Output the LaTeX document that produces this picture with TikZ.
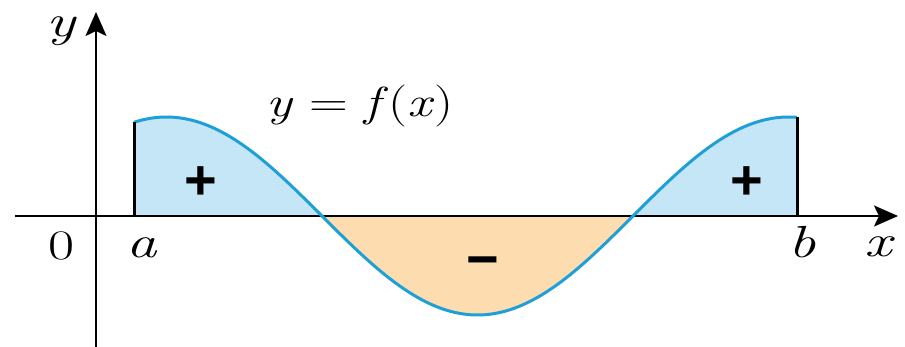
\documentclass[tikz,border=0pt]{standalone}
\usepackage{fontspec}
\usepackage{graphicx}
\newfontfamily\signfont{Liberation Sans}
\newcommand{\wideglyph}[1]{\scalebox{1.35}[1]{#1}}
\usetikzlibrary{arrows.meta}
\definecolor{curveblue}{RGB}{30,160,215}
\definecolor{posfill}{RGB}{197,230,247}
\definecolor{negfill}{RGB}{253,221,176}
\begin{document}
\begin{tikzpicture}[x=1pt,y=-1pt,
  axisline/.style={line width=2pt, -{Stealth[length=24pt,width=21pt,inset=5pt]}},
  lbl/.style={font=\rmfamily\fontsize{45}{48}\selectfont\itshape, inner sep=0pt},
  sign/.style={font=\signfont\bfseries\fontsize{56}{60}\selectfont, inner sep=0pt},
  fcurve/.style={curveblue, line width=3pt},
  bound/.style={line width=3pt},
  declare function={f(\x)=216+99*cos((\x-477.5)*0.578778);}
]
\useasboundingbox (0,0) rectangle (905,347);
% coordinates
\coordinate (A0) at (134,216);
\coordinate (Atop) at (134,{f(134)});
\coordinate (B0) at (797,216);
\coordinate (Btop) at (797,{f(797)});
\coordinate (Z1) at (322,216);
\coordinate (Z2) at (633,216);
\coordinate (xs) at (15,216);
\coordinate (xe) at (898,216);
\coordinate (ys) at (96,347);
\coordinate (ye) at (96,12);
% fills
\fill[posfill] (A0) -- plot[domain=134:322,samples=60] (\x,{f(\x)}) -- (Z1) -- cycle;
\fill[negfill] (Z1) -- plot[domain=322:633,samples=80] (\x,{f(\x)}) -- (Z2) -- cycle;
\fill[posfill] (Z2) -- plot[domain=633:797,samples=60] (\x,{f(\x)}) -- (B0) -- cycle;
% axes
\draw[axisline] (xs) -- (xe);
\draw[axisline] (ys) -- (ye);
% curve
\draw[fcurve] plot[domain=134:797,samples=200] (\x,{f(\x)});
% boundaries
\draw[bound] (A0) -- (Atop);
\draw[bound] (B0) -- (Btop);
% labels
\node[lbl] (ylab) at (61,31) {\wideglyph{y}};
\node[lbl, font=\rmfamily\fontsize{42}{46}\selectfont] (zero) at (62,246) {\wideglyph{0}};
\node[lbl] (alab) at (142,248) {\wideglyph{a}};
\node[lbl] (blab) at (802,242) {\wideglyph{b}};
\node[lbl] (xlab) at (878,247) {\wideglyph{x}};
\node[inner sep=0pt, font=\rmfamily\fontsize{42}{46}\selectfont] (fx) at (360,106)
  {\scalebox{1.28}[1]{\textit{y} = \textit{f}(\textit{x})}};
\node[sign] (p1) at (201,183) {+};
\node[sign] (p2) at (747,183) {+};
\node[sign] (m1) at (483,268) {\char"2212};
\end{tikzpicture}
\end{document}
